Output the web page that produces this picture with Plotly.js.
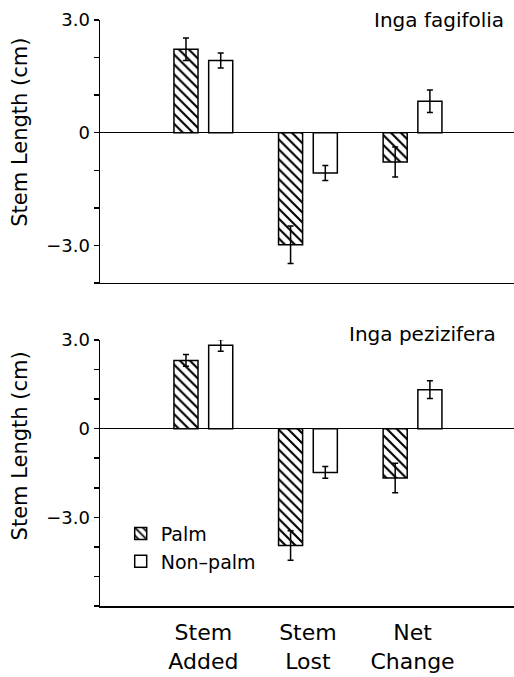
<!DOCTYPE html>
<html>
<head>
<meta charset="utf-8">
<script src="https://cdn.plot.ly/plotly-3.0.1.min.js"></script>
<style>html,body{margin:0;padding:0;background:#fff;}#chart{width:514px;height:677px;}</style>
</head>
<body>
<div id="chart"></div>
<script>
const categories = ['Stem Added', 'Stem Lost', 'Net Change'];
const seriesNames = ['Palm', 'Non\u2013palm'];
const panelTitles = ['Inga fagifolia', 'Inga pezizifera'];

const fagPalm = [2.22, -2.98, -0.78];
const fagPalmErr = [0.30, 0.50, 0.40];
const fagNon = [1.92, -1.07, 0.84];
const fagNonErr = [0.20, 0.20, 0.30];

const pezPalm = [2.31, -3.95, -1.67];
const pezPalmErr = [0.20, 0.50, 0.50];
const pezNon = [2.82, -1.48, 1.32];
const pezNonErr = [0.20, 0.20, 0.30];

const yTickValsTop = [-4, -3, -2, -1, 0, 1, 2, 3];
const yTickValsBot = [-6, -5, -4, -3, -2, -1, 0, 1, 2, 3];
const yLabeled = {'-3': '\u22123.0', '0': '0', '3': '3.0'};

const FONT = 'DejaVu Sans, sans-serif';
const palmMarker = {color: 'white', line: {color: 'black', width: 1.5},
  pattern: {shape: '\\', fgcolor: 'black', bgcolor: 'white', size: 7, solidity: 0.3}};
const nonMarker = {color: 'white', line: {color: 'black', width: 1.5}};
const err = a => ({type: 'data', array: a, visible: true, color: 'black', thickness: 1.5, width: 3});

const xcats = categories;
const traces = [
  {type: 'bar', x: xcats, y: fagPalm, error_y: err(fagPalmErr), marker: palmMarker, name: seriesNames[0], showlegend: false, xaxis: 'x', yaxis: 'y'},
  {type: 'bar', x: xcats, y: fagNon, error_y: err(fagNonErr), marker: nonMarker, name: seriesNames[1], showlegend: false, xaxis: 'x', yaxis: 'y'},
  {type: 'bar', x: xcats, y: pezPalm, error_y: err(pezPalmErr), marker: palmMarker, name: seriesNames[0], showlegend: true, xaxis: 'x2', yaxis: 'y2'},
  {type: 'bar', x: xcats, y: pezNon, error_y: err(pezNonErr), marker: nonMarker, name: seriesNames[1], showlegend: true, xaxis: 'x2', yaxis: 'y2'}
];

function yaxis(vals, range, domain) {
  return {
    range: range, domain: domain, tickmode: 'array', tickvals: vals,
    ticktext: vals.map(v => yLabeled[String(v)] || ''),
    ticks: 'outside', ticklen: 5, tickwidth: 1.5, tickcolor: 'black',
    showline: true, linecolor: 'black', linewidth: 1.5,
    zeroline: true, zerolinecolor: 'black', zerolinewidth: 1.5,
    showgrid: false, fixedrange: true,
    tickfont: {family: FONT, size: 18, color: 'black'}
  };
}
function xaxis(anchor, showLabels) {
  return {
    anchor: anchor, range: [-0.988, 2.97], type: 'category',
    showline: true, linecolor: 'black', linewidth: 1.5,
    ticks: '', showgrid: false, zeroline: false,
    showticklabels: showLabels, ticklabelstandoff: 6,
    tickmode: 'array', tickvals: categories,
    ticktext: categories.map(c => c.replace(' ', '<br>')),
    tickfont: {family: FONT, size: 22, color: 'black'}
  };
}

const layout = {
  width: 514, height: 677,
  margin: {l: 100, r: 0, t: 20, b: 71},
  paper_bgcolor: 'white', plot_bgcolor: 'white',
  barmode: 'group', bargap: 0.336, bargroupgap: 0.307,
  font: {family: FONT, color: 'black'},
  xaxis: xaxis('y', false),
  xaxis2: xaxis('y2', true),
  yaxis: yaxis(yTickValsTop, [-4, 3], [0.5512, 1]),
  yaxis2: yaxis(yTickValsBot, [-6, 3], [0, 0.4539]),
  showlegend: true,
  legend: {x: 0.05, y: 0.156, xanchor: 'left', yanchor: 'top', bgcolor: 'rgba(0,0,0,0)',
    font: {family: FONT, size: 19, color: 'black'}, tracegroupgap: 0, itemwidth: 30},
  annotations: [
    {text: panelTitles[0], xref: 'paper', yref: 'paper', x: 1, y: 1, xanchor: 'right', yanchor: 'middle',
     xshift: -8, yshift: 0, showarrow: false, font: {family: FONT, size: 20, color: 'black'}},
    {text: panelTitles[1], xref: 'paper', yref: 'paper', x: 1, y: 0.4539, xanchor: 'right', yanchor: 'middle',
     xshift: -16, yshift: 6, showarrow: false, font: {family: FONT, size: 20, color: 'black'}},
    {text: 'Stem Length (cm)', xref: 'paper', yref: 'y', x: 0, y: 0, xanchor: 'center', yanchor: 'middle',
     xshift: -80, showarrow: false, textangle: -90, font: {family: FONT, size: 21, color: 'black'}},
    {text: 'Stem Length (cm)', xref: 'paper', yref: 'y2', x: 0, y: -0.6, xanchor: 'center', yanchor: 'middle',
     xshift: -80, showarrow: false, textangle: -90, font: {family: FONT, size: 21, color: 'black'}}
  ]
};

Plotly.newPlot('chart', traces, layout, {staticPlot: true, displayModeBar: false});
</script>
</body>
</html>
